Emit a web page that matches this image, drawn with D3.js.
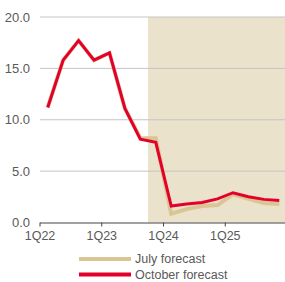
<!DOCTYPE html>
<html>
<head>
<meta charset="utf-8">
<script src="https://cdn.jsdelivr.net/npm/d3@7"></script>
<style>
  body { margin: 0; background: #fff; }
  svg { display: block; font-family: "Liberation Sans", Arial, sans-serif; }
</style>
</head>
<body>
<script>
// quarters 1Q22 .. 4Q25
const quarters = d3.range(16).map(i => `${(i % 4) + 1}Q${22 + Math.floor(i / 4)}`);
const octoberForecast = [11.2, 15.8, 17.7, 15.8, 16.5, 11.1, 8.1, 7.8, 1.6, 1.8, 1.95, 2.3, 2.9, 2.5, 2.25, 2.15];
const julyForecast    = [11.2, 15.8, 17.7, 15.8, 16.5, 11.1, 8.2, 8.2, 0.85, 1.3, 1.6, 1.7, 2.75, 2.3, 1.9, 1.8];
const yTicks = [0, 5, 10, 15, 20];
const xTickLabels = ["1Q22", "1Q23", "1Q24", "1Q25"];
const shadeFrom = "4Q23";

const [w, h] = [285, 282];
const margin = { left: 40, right: -2, top: 17, bottom: 59.5 };

const svg = d3.select('body').append('svg')
    .attr('width', w)
    .attr('height', h);

// Scales
const x = d3.scaleBand()
    .domain(quarters)
    .range([margin.left, w - margin.right])
    .paddingInner(0).paddingOuter(0);

const y = d3.scaleLinear()
    .domain([0, 20])
    .range([h - margin.bottom, margin.top]);

// Forecast shading
svg.append('rect')
    .attr('x', x(shadeFrom))
    .attr('y', y(20))
    .attr('width', w - x(shadeFrom))
    .attr('height', y(0) - y(20))
    .attr('fill', '#ebe2cc');

// Grid lines
svg.append('g')
    .selectAll('line')
    .data(yTicks.filter(d => d > 0))
    .join('line')
    .attr('x1', margin.left)
    .attr('x2', w)
    .attr('y1', d => y(d))
    .attr('y2', d => y(d))
    .attr('stroke', '#c4c4c4')
    .attr('stroke-width', 1);

// Y labels
svg.append('g')
    .selectAll('text')
    .data(yTicks)
    .join('text')
    .attr('x', 30)
    .attr('y', d => y(d))
    .attr('dy', '0.35em')
    .attr('text-anchor', 'end')
    .attr('font-size', '13px')
    .attr('fill', '#595959')
    .text(d => d3.format('.1f')(d));

// X axis
const xAxis = d3.axisBottom(x)
    .tickValues(xTickLabels)
    .tickSize(4)
    .tickSizeOuter(0);

const gx = svg.append('g')
    .attr('transform', `translate(${-x.bandwidth() / 2}, ${y(0)})`)
    .call(xAxis);
gx.select('.domain').remove();
gx.selectAll('.tick line').attr('stroke', '#444');
gx.selectAll('.tick text')
    .attr('y', 9)
    .attr('font-size', '12.5px')
    .attr('font-family', '"Liberation Sans", Arial, sans-serif')
    .attr('fill', '#595959');

svg.append('line')
    .attr('x1', margin.left)
    .attr('x2', w)
    .attr('y1', y(0) + 0.5)
    .attr('y2', y(0) + 0.5)
    .attr('stroke', '#444')
    .attr('stroke-width', 1);

// Lines
const line = d3.line()
    .x((d, i) => x(quarters[i]) + x.bandwidth() / 2)
    .y(d => y(d));

svg.append('path')
    .datum(julyForecast)
    .attr('d', line)
    .attr('fill', 'none')
    .attr('stroke', '#dac594')
    .attr('stroke-width', 4);

svg.append('path')
    .datum(octoberForecast)
    .attr('d', line)
    .attr('fill', 'none')
    .attr('stroke', '#e4002b')
    .attr('stroke-width', 3)
    .attr('stroke-linejoin', 'miter');

// Legend
const legendItems = [
    { label: 'July forecast', color: '#dac594' },
    { label: 'October forecast', color: '#e4002b' }
];
const legend = svg.append('g');
legendItems.forEach((d, i) => {
    const ly = 259 + i * 15.5;
    legend.append('line')
        .attr('x1', 79).attr('x2', 131)
        .attr('y1', ly).attr('y2', ly)
        .attr('stroke', d.color)
        .attr('stroke-width', 4);
    legend.append('text')
        .attr('x', 135)
        .attr('y', ly)
        .attr('dy', '0.35em')
        .attr('font-size', '12.5px')
        .attr('fill', '#595959')
        .text(d.label);
});
</script>
</body>
</html>
